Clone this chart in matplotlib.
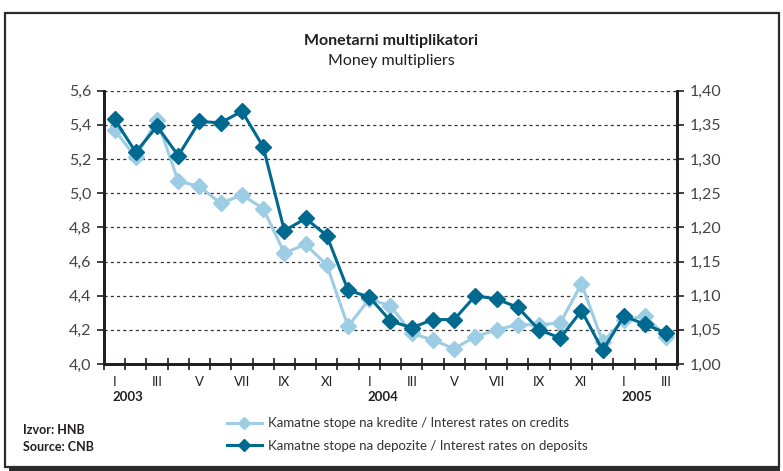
import numpy as np
import matplotlib.pyplot as plt
from matplotlib.patches import Rectangle

plt.rcParams['font.family'] = ['Lato', 'DejaVu Sans']

# monthly data, Jan 2003 - Mar 2005
months = ["I", "II", "III", "IV", "V", "VI", "VII", "VIII", "IX", "X", "XI", "XII",
          "I", "II", "III", "IV", "V", "VI", "VII", "VIII", "IX", "X", "XI", "XII",
          "I", "II", "III"]
years = ["2003", "2004", "2005"]

# left axis
credits = [5.37, 5.21, 5.43, 5.07, 5.04, 4.94, 4.99, 4.91, 4.65, 4.70, 4.58, 4.22,
           4.38, 4.34, 4.18, 4.14, 4.09, 4.16, 4.20, 4.23, 4.23, 4.24, 4.47, 4.13,
           4.26, 4.28, 4.16]
# right axis
deposits = [1.358, 1.310, 1.348, 1.305, 1.355, 1.353, 1.370, 1.318, 1.195, 1.213, 1.188, 1.108,
            1.098, 1.063, 1.053, 1.065, 1.065, 1.100, 1.095, 1.083, 1.050, 1.038, 1.078, 1.020,
            1.070, 1.058, 1.045]

light = "#9dcde4"
dark = "#00698f"
ink = "#231f20"

fig = plt.figure(figsize=(7.83, 4.71), dpi=100)
ax = fig.add_axes([0.1328, 0.2272, 0.7318, 0.5802])
ax2 = ax.twinx()

x = np.arange(len(months))
l1, = ax.plot(x, credits, color=light, lw=2.2, marker="D", ms=8.5, zorder=3,
              label="Kamatne stope na kredite / Interest rates on credits")
l2, = ax2.plot(x, deposits, color=dark, lw=2.2, marker="D", ms=8.5, zorder=3,
               label="Kamatne stope na depozite / Interest rates on deposits")

ax.set_xlim(-0.5, len(months) - 0.5)
ax.set_ylim(4.0, 5.6)
ax2.set_ylim(1.0, 1.4)
ax.set_yticks(np.arange(4.0, 5.61, 0.2))
ax2.set_yticks(np.arange(1.0, 1.401, 0.05))
ax.set_yticklabels([f"{v:.1f}".replace(".", ",") for v in np.arange(4.0, 5.61, 0.2)])
ax2.set_yticklabels([f"{v:.2f}".replace(".", ",") for v in np.arange(1.0, 1.401, 0.05)])

ax.yaxis.grid(True, linestyle=(0, (2.5, 2.5)), color="#333333", lw=0.9)
ax.set_axisbelow(True)

# x ticks at month boundaries, labels on odd months
ax.set_xticks(np.arange(-0.5, len(months), 1.0))
ax.set_xticklabels([])
ax.tick_params(axis="x", direction="inout", length=8, width=1.2, color=ink)
for i, m in enumerate(months):
    if i % 2 == 0:
        ax.text(i, -0.045, m, transform=ax.get_xaxis_transform(), ha="center", va="top",
                fontsize=9.5, color=ink)
for i, yr in zip([0, 12, 24], years):
    ax.text(i - 0.1, -0.1, yr, transform=ax.get_xaxis_transform(), ha="left", va="top",
            fontsize=9.5, fontweight="bold", color=ink)

ax.tick_params(axis="y", direction="out", length=5, width=1.2, color=ink,
               labelsize=11.5, labelcolor="#444444", pad=4)
ax2.tick_params(axis="y", direction="out", length=5, width=1.2, color=ink,
                labelsize=11.5, labelcolor="#444444", pad=4)

for a in (ax, ax2):
    a.spines["top"].set_visible(False)
    for s in ("left", "right", "bottom"):
        a.spines[s].set_linewidth(2)
        a.spines[s].set_color(ink)

fig.text(0.5, 0.912, "Monetarni multiplikatori", ha="center", va="center",
         fontsize=11.5, fontweight="bold", color=ink)
fig.text(0.5, 0.871, "Money multipliers", ha="center", va="center", fontsize=11.5, color=ink)

fig.legend(handles=[l1, l2], loc="center left", bbox_to_anchor=(0.275, 0.077),
           frameon=False, fontsize=9.5, handlelength=2.6, labelspacing=0.8,
           handletextpad=0.5, labelcolor="#333333", markerscale=0.7)

fig.text(0.029, 0.086, "Izvor: HNB", fontsize=9, fontweight="bold", color=ink, va="center")
fig.text(0.029, 0.05, "Source: CNB", fontsize=9, fontweight="bold", color=ink, va="center")

# framed box with shadow
W, H = 783, 471
fig.patches.append(Rectangle((9 / W, 1 - 471 / H), 771 / W, 454 / H, transform=fig.transFigure,
                             facecolor="#2b2b2b", edgecolor="none", zorder=-2))
fig.patches.append(Rectangle((5 / W, 1 - 467 / H), 774 / W, 454 / H, transform=fig.transFigure,
                             facecolor="white", edgecolor="#2b2b2b", lw=1.6, zorder=-1))

fig.savefig("out.png", dpi=100)
